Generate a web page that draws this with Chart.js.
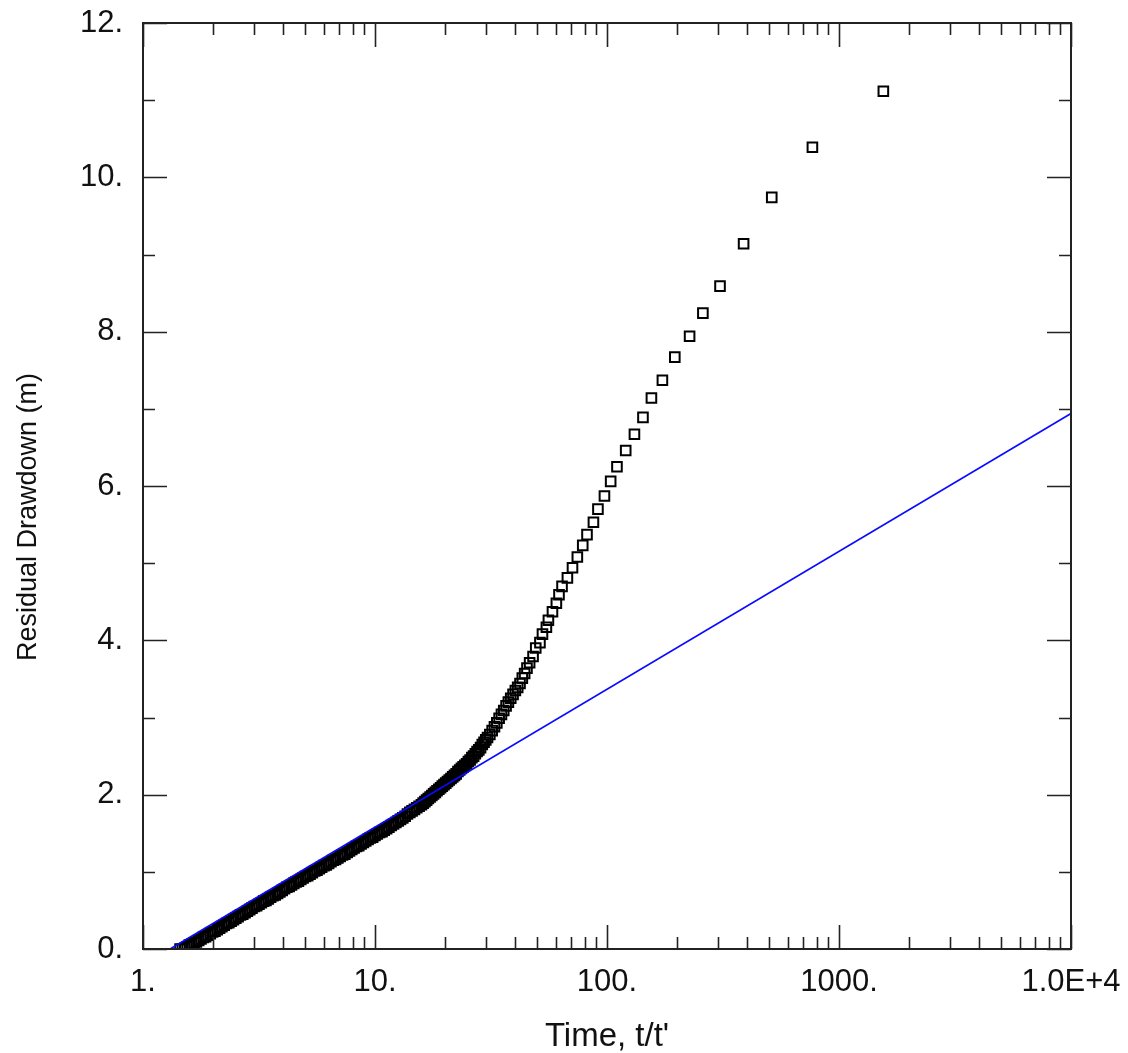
<!DOCTYPE html>
<html>
<head>
<meta charset="utf-8">
<script src="https://cdn.jsdelivr.net/npm/chart.js@4/dist/chart.umd.min.js"></script>
<style>
  html, body { margin: 0; padding: 0; background: #fff; }
  #wrap { width: 1128px; height: 1053px; }
</style>
</head>
<body>
<div id="wrap"><canvas id="chart" width="1128" height="1053"></canvas></div>
<script>
// Recovery data: time ratio t/t' and residual drawdown (m)
const timeRatio = [
    1.445, 1.479, 1.514, 1.549, 1.585, 1.622, 1.660, 1.698, 1.738, 1.778,
    1.820, 1.862, 1.905, 1.950, 1.995, 2.042, 2.089, 2.138, 2.188, 2.239,
    2.291, 2.344, 2.399, 2.455, 2.512, 2.570, 2.630, 2.692, 2.754, 2.818,
    2.884, 2.951, 3.020, 3.090, 3.162, 3.236, 3.311, 3.388, 3.467, 3.548,
    3.631, 3.715, 3.802, 3.890, 3.981, 4.074, 4.169, 4.266, 4.365, 4.467,
    4.571, 4.677, 4.786, 4.898, 5.012, 5.129, 5.248, 5.370, 5.495, 5.623,
    5.754, 5.888, 6.026, 6.166, 6.310, 6.457, 6.607, 6.761, 6.918, 7.079,
    7.244, 7.413, 7.586, 7.762, 7.943, 8.128, 8.318, 8.511, 8.710, 8.913,
    9.120, 9.333, 9.550, 9.772, 10.00, 10.23, 10.47, 10.72, 10.96, 11.22,
    11.48, 11.75, 12.02, 12.30, 12.59, 12.88, 13.18, 13.49, 13.80, 14.13,
    14.45, 14.79, 15.14, 15.49, 15.85, 16.13, 16.41, 16.69, 16.98, 17.28,
    17.58, 17.89, 18.20, 18.51, 18.84, 19.17, 19.50, 19.84, 20.18, 20.53,
    20.89, 21.26, 21.63, 22.01, 22.39, 22.78, 23.17, 23.58, 23.99, 24.41,
    24.83, 25.26, 25.70, 26.15, 26.61, 27.07, 27.54, 28.02, 28.51, 29.00,
    29.51, 30.02, 30.55, 31.26, 31.99, 32.73, 33.50, 34.28, 35.08, 35.89,
    36.73, 37.58, 38.46, 39.36, 40.27, 41.21, 42.17, 43.15, 44.16, 45.19,
    46.4, 48.0, 49.3, 51.4, 52.7, 54.8, 55.9, 58.2, 60.5, 62.1,
    64.0, 67.5, 71.0, 74.5, 78.6, 82.0, 87.4, 91.4, 97.5, 103.7,
    110.4, 120.4, 131.3, 142.9, 155.4, 173.3, 196, 227, 259, 307,
    388, 513, 768, 1553
];
const drawdown = [
    0.00, 0.00, 0.01, 0.03, 0.05, 0.06, 0.08, 0.09, 0.11, 0.13,
    0.15, 0.16, 0.18, 0.20, 0.22, 0.23, 0.25, 0.27, 0.29, 0.31,
    0.33, 0.34, 0.36, 0.38, 0.40, 0.42, 0.44, 0.45, 0.47, 0.49,
    0.51, 0.53, 0.55, 0.56, 0.58, 0.60, 0.62, 0.63, 0.65, 0.67,
    0.69, 0.70, 0.72, 0.74, 0.76, 0.78, 0.80, 0.81, 0.83, 0.85,
    0.87, 0.88, 0.90, 0.92, 0.94, 0.95, 0.97, 0.99, 1.01, 1.02,
    1.04, 1.06, 1.08, 1.09, 1.11, 1.13, 1.15, 1.16, 1.18, 1.20,
    1.22, 1.23, 1.25, 1.27, 1.29, 1.31, 1.33, 1.34, 1.36, 1.38,
    1.40, 1.42, 1.44, 1.45, 1.47, 1.49, 1.51, 1.52, 1.54, 1.56,
    1.58, 1.60, 1.62, 1.64, 1.66, 1.68, 1.70, 1.72, 1.75, 1.77,
    1.79, 1.81, 1.83, 1.85, 1.87, 1.89, 1.91, 1.93, 1.95, 1.97,
    1.99, 2.01, 2.03, 2.05, 2.07, 2.09, 2.11, 2.13, 2.15, 2.17,
    2.19, 2.21, 2.23, 2.25, 2.27, 2.30, 2.32, 2.34, 2.36, 2.38,
    2.40, 2.43, 2.45, 2.48, 2.50, 2.53, 2.56, 2.58, 2.61, 2.65,
    2.68, 2.71, 2.74, 2.78, 2.83, 2.88, 2.93, 2.99, 3.04, 3.09,
    3.15, 3.20, 3.25, 3.30, 3.35, 3.39, 3.44, 3.51, 3.57, 3.64,
    3.71, 3.79, 3.90, 3.97, 4.08, 4.17, 4.26, 4.37, 4.48, 4.59,
    4.70, 4.81, 4.94, 5.08, 5.23, 5.37, 5.53, 5.70, 5.87, 6.06,
    6.25, 6.46, 6.67, 6.89, 7.14, 7.37, 7.67, 7.94, 8.24, 8.59,
    9.14, 9.74, 10.39, 11.115
];

// Straight-line fit (blue)
const fitTime = [1.308, 10000];
const fitDrawdown = [0, 6.94];

// Axis ticks
const xTickValues = [1, 10, 100, 1000, 10000];
const xTickLabels = ['1.', '10.', '100.', '1000.', '1.0E+4'];
const yTickValues = [0, 2, 4, 6, 8, 10, 12];
const yTickLabels = ['0.', '2.', '4.', '6.', '8.', '10.', '12.'];

const FONT = '"Liberation Sans", Arial, sans-serif';
const INK = '#111';

// frame + inward tick marks on all four sides, plus rotated y title
const framePlugin = {
    id: 'frame',
    afterDraw(chart) {
        const ctx = chart.ctx;
        const a = chart.chartArea;
        const xs = chart.scales.x;
        const ys = chart.scales.y;
        ctx.save();
        ctx.strokeStyle = '#222';
        ctx.lineWidth = 1.6;
        ctx.beginPath();
        for (let d = 1; d < 10000; d *= 10) {
            for (let k = 1; k <= 10; k++) {
                const v = d * k;
                if (v > 10000) break;
                const px = Math.round(xs.getPixelForValue(v)) + 0.5;
                const len = (k === 1 || k === 10) ? 24 : 12;
                ctx.moveTo(px, a.bottom); ctx.lineTo(px, a.bottom - len);
                ctx.moveTo(px, a.top); ctx.lineTo(px, a.top + len);
            }
        }
        for (let v = 0; v <= 12; v++) {
            const py = Math.round(ys.getPixelForValue(v)) + 0.5;
            const len = v % 2 === 0 ? 24 : 12;
            ctx.moveTo(a.left, py); ctx.lineTo(a.left + len, py);
            ctx.moveTo(a.right, py); ctx.lineTo(a.right - len, py);
        }
        ctx.stroke();
        ctx.lineWidth = 2;
        ctx.strokeRect(a.left, a.top, a.right - a.left, a.bottom - a.top);

        ctx.fillStyle = INK;
        ctx.font = '27px ' + FONT;
        ctx.textAlign = 'center';
        ctx.textBaseline = 'middle';
        ctx.translate(29, 517);
        ctx.rotate(-Math.PI / 2);
        ctx.fillText('Residual Drawdown (m)', 0, 0);
        ctx.restore();
    }
};

Chart.defaults.font.family = FONT;
Chart.defaults.color = INK;

new Chart(document.getElementById('chart'), {
    type: 'scatter',
    data: {
        datasets: [
            {
                label: 'Fit',
                data: fitTime.map((t, i) => ({ x: t, y: fitDrawdown[i] })),
                showLine: true,
                borderColor: 'rgb(10, 10, 255)',
                borderWidth: 1.6,
                pointRadius: 0
            },
            {
                label: 'Observed',
                data: timeRatio.map((t, i) => ({ x: t, y: drawdown[i] })),
                showLine: false,
                pointStyle: 'rect',
                pointRadius: 6.8,
                pointBorderWidth: 2,
                pointBorderColor: '#000',
                pointBackgroundColor: 'rgba(0,0,0,0)'
            }
        ]
    },
    options: {
        responsive: false,
        animation: false,
        events: [],
        layout: { padding: { top: 23, right: 57, left: 0, bottom: 0 } },
        plugins: {
            legend: { display: false },
            tooltip: { enabled: false }
        },
        scales: {
            x: {
                type: 'logarithmic',
                position: 'bottom',
                min: 1,
                max: 10000,
                afterBuildTicks: (scale) => {
                    scale.ticks = xTickValues.map(v => ({ value: v, major: true }));
                },
                afterFit: (scale) => {
                    scale.height = 104;
                    scale.paddingLeft = 0;
                    scale.paddingRight = 0;
                },
                grid: { display: false, drawTicks: false },
                border: { display: false },
                ticks: {
                    autoSkip: false,
                    maxRotation: 0,
                    padding: 15,
                    font: { size: 31 },
                    callback: (v) => {
                        const i = xTickValues.indexOf(v);
                        return i >= 0 ? xTickLabels[i] : '';
                    }
                },
                title: {
                    display: true,
                    text: "Time, t/t'",
                    font: { size: 33, lineHeight: 1 },
                    padding: { top: 0, bottom: 0 }
                }
            },
            y: {
                type: 'linear',
                min: 0,
                max: 12,
                afterBuildTicks: (scale) => {
                    scale.ticks = yTickValues.map(v => ({ value: v }));
                },
                afterFit: (scale) => {
                    scale.width = 143;
                    scale.paddingTop = 0;
                    scale.paddingBottom = 0;
                },
                grid: { display: false, drawTicks: false },
                border: { display: false },
                ticks: {
                    padding: 20,
                    font: { size: 31 },
                    callback: (v) => {
                        const i = yTickValues.indexOf(v);
                        return i >= 0 ? yTickLabels[i] : '';
                    }
                }
            }
        }
    },
    plugins: [framePlugin]
});
</script>
</body>
</html>
